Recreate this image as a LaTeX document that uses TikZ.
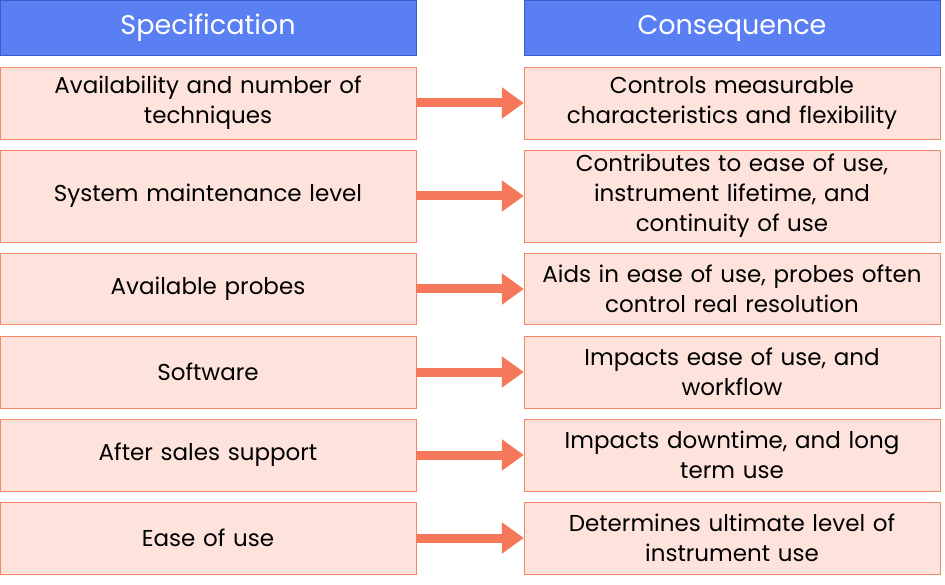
\documentclass[tikz,border=0pt]{standalone}
\usepackage{fontspec}
\setmainfont{Poppins}
\usetikzlibrary{arrows.meta,positioning}
\definecolor{headblue}{HTML}{5A7FF2}
\definecolor{headedge}{HTML}{3B5BC8}
\definecolor{boxfill}{HTML}{FDE3DB}
\definecolor{boxedge}{HTML}{F4896A}
\definecolor{arrowred}{HTML}{F6785A}
\tikzset{
  headbox/.style={draw=headedge, fill=headblue, text=white, minimum width=416pt, minimum height=55pt, font=\fontsize{27}{32}\selectfont, inner sep=0pt},
  specbox/.style={draw=boxedge, fill=boxfill, minimum width=416pt, align=center, font=\fontsize{23}{30}\selectfont, inner sep=0pt, text width=405pt},
  linkarrow/.style={-{Triangle[length=22pt,width=30pt]}, line width=9pt, draw=arrowred}
}
\begin{document}
\begin{tikzpicture}[x=1pt,y=-1pt]
\useasboundingbox (0,0) rectangle (945,585);

% Headers
\node[headbox] (hspec) at (208,28) {Specification};
\node[headbox] (hcons) at (732,28) {Consequence};

% Rows
\foreach \n/\yc/\h/\spec/\cons in {
  1/103/72/{Availability and number of\\techniques}/{Controls measurable\\characteristics and flexibility},
  2/196/92/{System maintenance level}/{Contributes to ease of use,\\instrument lifetime, and\\continuity of use},
  3/289/71/{Available probes}/{Aids in ease of use, probes often\\control real resolution},
  4/372/72/{Software}/{Impacts ease of use, and\\workflow},
  5/455/72/{After sales support}/{Impacts downtime, and long\\term use},
  6/538/72/{Ease of use}/{Determines ultimate level of\\instrument use}}{
  \node[specbox, minimum height=\h pt] (s\n) at (208,\yc) {\spec};
  \node[specbox, minimum height=\h pt] (c\n) at (732,\yc) {\cons};
  \draw[linkarrow] (s\n.east) -- (c\n.west);
}

\end{tikzpicture}
\end{document}
